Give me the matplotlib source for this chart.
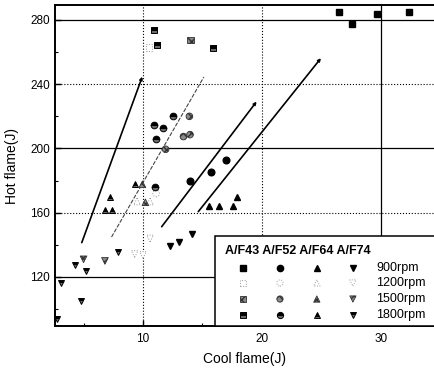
import matplotlib
matplotlib.use("Agg")
import matplotlib.pyplot as plt
from matplotlib.patches import Rectangle

plt.rcParams["font.family"] = ["Liberation Sans", "DejaVu Sans"]

af_names = ["A/F43", "A/F52", "A/F64", "A/F74"]
rpm_names = ["900rpm", "1200rpm", "1500rpm", "1800rpm"]
af_markers = ["s", "o", "^", "v"]

# 900 rpm
x_900 = [[26.5, 27.6, 29.7, 32.4], [13.95, 15.7, 17.0], [15.55, 16.4, 17.6, 17.9], [12.3, 13.0, 14.1]]
y_900 = [[285, 277.5, 283.8, 285], [179.6, 185.6, 192.9], [164.2, 164.2, 164.2, 169.6], [139, 142, 147]]

# 1200 rpm
x_1200 = [[10.5], [11.1], [9.5, 10.6], [9.3, 10.0, 10.6]]
y_1200 = [[263], [172], [167, 167], [134.3, 133.7, 144]]

# 1500 rpm
x_1500 = [[14.0], [13.9, 13.4, 13.95, 11.9], [9.95, 10.2], [5.0, 6.8]]
y_1500 = [[267.6], [220, 207.4, 208.6, 199.5], [177.7, 166.5], [131, 130]]

# 1800 rpm
x_1800 = [[10.9, 11.2, 15.9], [10.9, 11.7, 12.5, 11.1, 11.0], [7.2, 6.8, 7.4, 9.3],
          [4.3, 5.2, 7.9, 3.1, 4.8, 2.8]]
y_1800 = [[273.8, 264.5, 262.8], [214.6, 213, 220.5, 206, 175.9], [170, 161.7, 161.7, 177.7],
          [127.5, 123.7, 135.4, 116, 105, 93.6]]

# trend arrows (start x, start y, end x, end y)
arrows_solid = [(4.85, 141.4, 9.94, 244.7), (11.57, 151.3, 19.55, 229.2), (14.65, 160.7, 24.96, 256.2)]
arrow_dashed = (7.37, 145.1, 15.1, 244.3)


def draw(ax, x, y, m, style, size=4.8, **kw):
    if style == "900":
        ax.plot(x, y, ls="none", marker=m, ms=size, mfc="black", mec="black", **kw)
    elif style == "1200":
        ax.scatter(x, y, marker=m, s=size**2, facecolors="white", edgecolors="#9a9a9a",
                   linewidths=0.7, linestyles=":", **kw)
    elif style == "1500":
        ax.scatter(x, y, marker=m, s=size**2, facecolors="#8a8a8a", edgecolors="#333333",
                   linewidths=0.6, hatch="xxxx", **kw)
    else:
        ax.plot(x, y, ls="none", marker=m, ms=size, fillstyle="top", mfc="black",
                mfcalt="#6a6a6a", mec="black", mew=0.7, **kw)


fig = plt.figure(figsize=(4.35, 3.72), dpi=100)
ax = fig.add_axes([55 / 435, 46 / 372, 380 / 435, 321 / 372])

ax.set_xlim(2.6, 34.55)
ax.set_ylim(89.5, 289.3)

# grid lines
for yv, ls in [(120, "-"), (160, ":"), (200, "-"), (240, ":"), (280, "-")]:
    ax.axhline(yv, color="black", lw=0.9 if ls == "-" else 0.8, ls=ls, zorder=1)
for xv, ls in [(10, ":"), (20, ":"), (30, "-")]:
    ax.axvline(xv, color="black", lw=0.9 if ls == "-" else 0.8, ls=ls, zorder=1)

for i, m in enumerate(af_markers):
    draw(ax, x_900[i], y_900[i], m, "900", zorder=3)
    draw(ax, x_1200[i], y_1200[i], m, "1200", zorder=3)
    draw(ax, x_1500[i], y_1500[i], m, "1500", zorder=3)
    draw(ax, x_1800[i], y_1800[i], m, "1800", zorder=3)

for x0, y0, x1, y1 in arrows_solid:
    ax.annotate("", xy=(x1, y1), xytext=(x0, y0),
                arrowprops=dict(arrowstyle="-|>", lw=1.2, color="black", mutation_scale=4,
                                shrinkA=0, shrinkB=0), zorder=2)
x0, y0, x1, y1 = arrow_dashed
ax.annotate("", xy=(x1, y1), xytext=(x0, y0),
            arrowprops=dict(arrowstyle="-", lw=0.8, color="#444444", ls=(0, (3, 2)),
                            shrinkA=0, shrinkB=0), zorder=2)

ax.set_xticks([10, 20, 30])
ax.set_xticks([5, 15, 25], minor=True)
ax.set_yticks([120, 160, 200, 240, 280])
ax.set_yticks([100, 140, 180, 220, 260], minor=True)
ax.tick_params(direction="in", labelsize=8.5, length=4, width=1)
ax.tick_params(which="minor", direction="in", length=2.5, width=0.8)
ax.tick_params(axis="x", pad=5)

for s in ["left", "bottom", "top"]:
    ax.spines[s].set_linewidth(1.4)
ax.spines["right"].set_visible(False)

ax.set_xlabel("Cool flame(J)", fontsize=10, labelpad=5)
ax.set_ylabel("Hot flame(J)", fontsize=10, labelpad=8)

# legend box
ax.add_patch(Rectangle((0.421, 0.0), 0.6, 0.28, transform=ax.transAxes, facecolor="white",
                       edgecolor="black", lw=1.1, zorder=5, clip_on=False))
ax.text(0.448, 0.234, " ".join(af_names), transform=ax.transAxes, fontsize=9,
        fontweight="bold", va="center", ha="left", zorder=6)
col_x = [0.495, 0.592, 0.689, 0.784]
row_y = [0.181, 0.134, 0.084, 0.034]
styles = ["900", "1200", "1500", "1800"]
for r, (ry, st) in enumerate(zip(row_y, styles)):
    for c, (cx, m) in enumerate(zip(col_x, af_markers)):
        draw(ax, [cx], [ry], m, st, size=4.5, transform=ax.transAxes, zorder=7, clip_on=False)
    ax.text(0.845, ry, rpm_names[r], transform=ax.transAxes, fontsize=9, va="center",
            ha="left", zorder=6)

fig.savefig("out.png", dpi=100)
